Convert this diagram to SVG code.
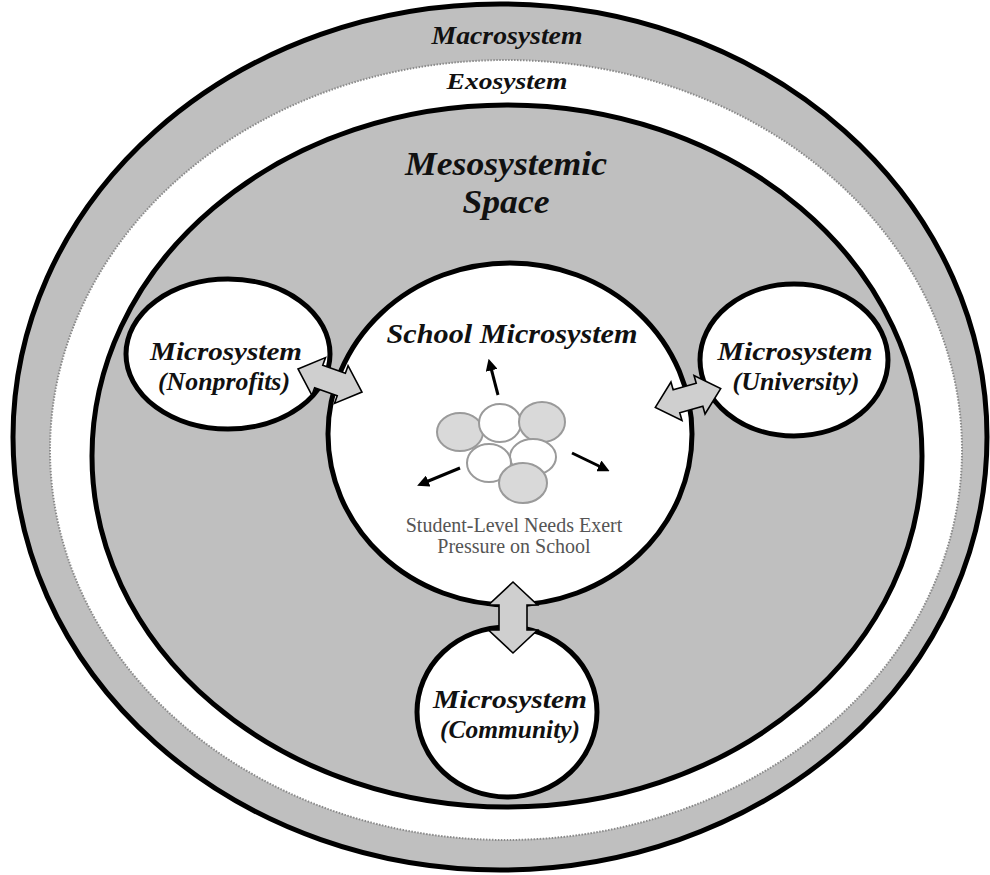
<svg xmlns="http://www.w3.org/2000/svg" width="990" height="875" viewBox="0 0 990 875">
<defs>
<style>
.lbl{font-family:"Liberation Serif","Times New Roman",serif;font-weight:bold;font-style:italic;fill:#111;text-anchor:middle}
.note{font-family:"Liberation Serif","Times New Roman",serif;font-size:20px;fill:#555;text-anchor:middle}
.micro{fill:#fff;stroke:#000;stroke-width:5}
.blob-g{fill:#d9d9d9;stroke:#9a9a9a;stroke-width:2}
.blob-w{fill:#fff;stroke:#9a9a9a;stroke-width:2}
.darr{fill:#cfcfcf;stroke:#000;stroke-width:1.6;stroke-linejoin:miter}
.push{stroke:#000;stroke-width:3;fill:none;marker-end:url(#ah)}
</style>
<marker id="ah" viewBox="0 0 10 10" refX="2" refY="5" markerWidth="4" markerHeight="4" orient="auto" markerUnits="strokeWidth">
<path d="M0,0 L10,5 L0,10 Z" fill="#000"/>
</marker>
<path id="dblSide" d="M-34,0 L-12,-20 L-12,-12 L12,-12 L12,-20 L34,0 L12,20 L12,12 L-12,12 L-12,20 Z"/>
<path id="dblBig" d="M-35.5,0 L-12.5,-24.5 L-12.5,-14 L12.5,-14 L12.5,-24.5 L35.5,0 L12.5,24.5 L12.5,14 L-12.5,14 L-12.5,24.5 Z"/>
</defs>
<rect width="990" height="875" fill="#fff"/>

<g id="macrosystem">
<ellipse cx="500" cy="437" rx="487" ry="433" fill="#bfbfbf" stroke="#000" stroke-width="5"/>
<text class="lbl" x="507" y="44" font-size="25" textLength="151" lengthAdjust="spacingAndGlyphs">Macrosystem</text>
</g>
<g id="exosystem">
<ellipse cx="506" cy="450" rx="456" ry="390" fill="#fff" stroke="#8a8a8a" stroke-width="2" stroke-dasharray="1.5 1.5"/>
<text class="lbl" x="507" y="89" font-size="23" textLength="121" lengthAdjust="spacingAndGlyphs">Exosystem</text>
</g>
<g id="mesosystem">
<ellipse cx="507" cy="456" rx="415" ry="351" fill="#bfbfbf" stroke="#000" stroke-width="5"/>
<text class="lbl" x="506" y="175" font-size="33" textLength="202" lengthAdjust="spacingAndGlyphs">Mesosystemic</text>
<text class="lbl" x="506" y="213" font-size="33" textLength="87" lengthAdjust="spacingAndGlyphs">Space</text>
</g>

<g id="school">
<ellipse class="micro" cx="510" cy="434" rx="182" ry="171"/>
<text class="lbl" x="512" y="343" font-size="27" textLength="251" lengthAdjust="spacingAndGlyphs">School Microsystem</text>
<g id="students">
<ellipse class="blob-g" cx="460" cy="432" rx="23" ry="19"/>
<ellipse class="blob-w" cx="500" cy="423" rx="21" ry="19"/>
<ellipse class="blob-g" cx="542" cy="422" rx="23" ry="20"/>
<ellipse class="blob-w" cx="533" cy="457" rx="23" ry="18"/>
<ellipse class="blob-w" cx="489" cy="463" rx="22" ry="19"/>
<ellipse class="blob-g" cx="523" cy="483" rx="24" ry="20"/>
</g>
<g id="pressure">
<line class="push" x1="498" y1="395" x2="491" y2="368"/>
<line class="push" x1="460" y1="468" x2="426" y2="482"/>
<line class="push" x1="572" y1="453" x2="601" y2="467"/>
</g>
<text class="note" x="514" y="532">Student-Level Needs Exert</text>
<text class="note" x="514" y="553">Pressure on School</text>
</g>

<g id="nonprofits">
<ellipse class="micro" cx="228" cy="354" rx="102" ry="75"/>
<text class="lbl" x="226" y="360" font-size="26" textLength="152" lengthAdjust="spacingAndGlyphs">Microsystem</text>
<text class="lbl" x="224" y="390" font-size="26" textLength="132" lengthAdjust="spacingAndGlyphs">(Nonprofits)</text>
</g>
<g id="university">
<ellipse class="micro" cx="794" cy="360" rx="94" ry="76"/>
<text class="lbl" x="795" y="360" font-size="26" textLength="155" lengthAdjust="spacingAndGlyphs">Microsystem</text>
<text class="lbl" x="796" y="390" font-size="26" textLength="127" lengthAdjust="spacingAndGlyphs">(University)</text>
</g>
<g id="community">
<ellipse class="micro" cx="507" cy="712" rx="90" ry="85"/>
<text class="lbl" x="510" y="708" font-size="26" textLength="154" lengthAdjust="spacingAndGlyphs">Microsystem</text>
<text class="lbl" x="510" y="738" font-size="26" textLength="140" lengthAdjust="spacingAndGlyphs">(Community)</text>
</g>

<g id="connectors">
<use href="#dblSide" class="darr" transform="translate(330,380.5) rotate(19.8)"/>
<use href="#dblSide" class="darr" transform="translate(688,398) rotate(-16)"/>
<use href="#dblBig" class="darr" transform="translate(513,617.5) rotate(90)"/>
</g>
</svg>
